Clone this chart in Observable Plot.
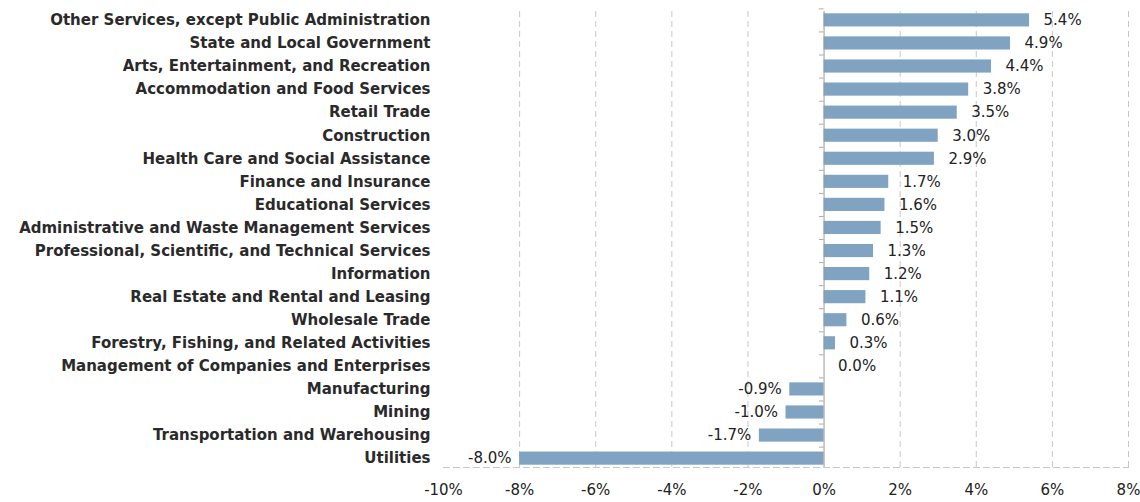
<!DOCTYPE html>
<html><head><meta charset="utf-8">
<script src="https://cdn.jsdelivr.net/npm/d3@7"></script>
<script src="https://cdn.jsdelivr.net/npm/@observablehq/plot@0.6"></script>
<style>
body{margin:0;background:#fff;}
</style>
</head><body><div id="chart"></div>
<script>
const industries = [
  "Other Services, except Public Administration",
  "State and Local Government",
  "Arts, Entertainment, and Recreation",
  "Accommodation and Food Services",
  "Retail Trade",
  "Construction",
  "Health Care and Social Assistance",
  "Finance and Insurance",
  "Educational Services",
  "Administrative and Waste Management Services",
  "Professional, Scientific, and Technical Services",
  "Information",
  "Real Estate and Rental and Leasing",
  "Wholesale Trade",
  "Forestry, Fishing, and Related Activities",
  "Management of Companies and Enterprises",
  "Manufacturing",
  "Mining",
  "Transportation and Warehousing",
  "Utilities"
];
const changes = [5.4, 4.9, 4.4, 3.8, 3.5, 3.0, 2.9, 1.7, 1.6, 1.5, 1.3, 1.2, 1.1, 0.6, 0.3, 0.0, -0.9, -1.0, -1.7, -8.0];
const xTicks = [-10, -8, -6, -4, -2, 0, 2, 4, 6, 8];

const data = industries.map((name, i) => ({name, value: changes[i]}));
const fmt = v => v.toFixed(1) + "%";

const chart = Plot.plot({
  width: 1140,
  height: 502,
  marginLeft: 443,
  marginRight: 12,
  marginTop: 11,
  marginBottom: 35,
  style: {fontFamily: "'DejaVu Sans', sans-serif", fontSize: "15px", color: "#222", background: "#fff"},
  x: {domain: [-10, 8], ticks: xTicks, tickFormat: d => d + "%", tickSize: 0, label: null},
  y: {domain: industries, paddingInner: 0.43, paddingOuter: 0.1, round: false, label: null, tickSize: 0},
  marks: [
    Plot.gridX(xTicks.filter(t => t !== 0 && t !== -10), {stroke: "#c8c8c8", strokeOpacity: 1, strokeDasharray: "6,4"}),
    Plot.frame({anchor: "bottom", stroke: "#c8c8c8", strokeDasharray: "6,4"}),
    Plot.barX(data, {x: "value", y: "name", fill: "#7fa3c1"}),
    Plot.ruleY(industries, {y: d => d, x1: -0.12, x2: 0, dy: -11.5, stroke: "#aaa"}),
    Plot.ruleX([0], {stroke: "#9a9a9a", strokeWidth: 1}),
    Plot.text(data.filter(d => d.value >= 0), {x: "value", y: "name", text: d => fmt(d.value), textAnchor: "start", dx: 14, fill: "#222", fontSize: 15}),
    Plot.text(data.filter(d => d.value < 0), {x: "value", y: "name", text: d => fmt(d.value), textAnchor: "end", dx: -8, fill: "#222", fontSize: 15}),
    Plot.axisY({tickSize: 0, tickPadding: 13, fontWeight: "bold", fill: "#2a2a2a", fontSize: 15, label: null}),
    Plot.axisX({ticks: xTicks, tickFormat: d => d + "%", tickSize: 0, tickPadding: 17, fill: "#222", fontSize: 15, label: null})
  ]
});
document.getElementById("chart").appendChild(chart);
</script>
</body></html>
